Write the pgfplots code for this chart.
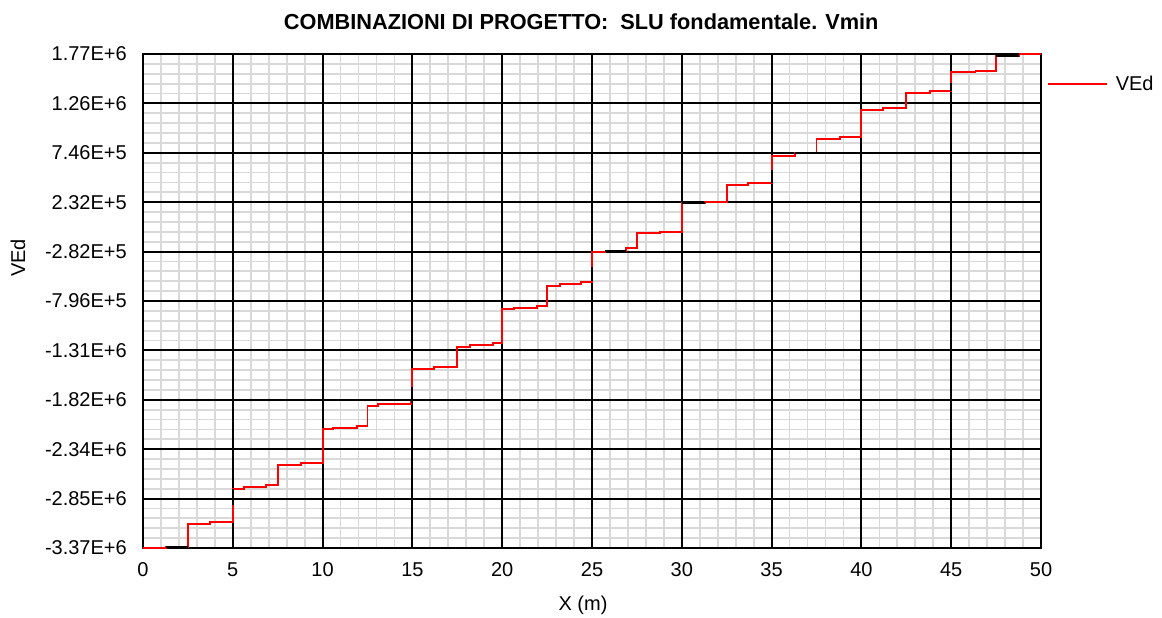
\documentclass[border=0pt]{standalone}
\usepackage{fontspec}
\setmainfont{Liberation Sans}
\usepackage{pgfplots}
\pgfplotsset{compat=1.18}
\definecolor{minorgray}{RGB}{217,217,217}
\pgfplotsset{
  baseaxis/.style={
    scale only axis,
    width=673.5pt, height=370.5pt,
    at={(0pt,0pt)}, anchor=south west,
    xmin=0, xmax=50, ymin=-3370000, ymax=1770000,
    xtick={0,5,...,50},
    ytick={-3370000,-2856000,-2342000,-1828000,-1314000,-800000,-286000,228000,742000,1256000,1770000},
    scaled y ticks=false, scaled x ticks=false,
    major tick length=0pt, minor tick length=0pt,
  }
}
\begin{document}
\begin{tikzpicture}
\useasboundingbox (-107.25pt,-51.75pt) rectangle (764.25pt,411pt);
% minor grid underneath
\begin{axis}[
  baseaxis,
  minor x tick num=4, minor y tick num=4,
  grid=minor,
  minor grid style={minorgray, line width=1.3pt},
  axis line style={draw=none},
  xticklabels={}, yticklabels={},
]
\end{axis}
% main axis
\begin{axis}[
  baseaxis,
  yticklabels={-3.37E+6,-2.85E+6,-2.34E+6,-1.82E+6,-1.31E+6,-7.96E+5,-2.82E+5,2.32E+5,7.46E+5,1.26E+6,1.77E+6},
  grid=major,
  major grid style={black, line width=1.4pt},
  axis line style={black, line width=1.4pt},
  /pgf/number format/assume math mode=true,
  tick label style={font=\fontsize{15pt}{18pt}\selectfont, inner sep=0pt},
  yticklabel style={xshift=-12pt},
  xticklabel style={yshift=-11pt},
  title={\bfseries COMBINAZIONI DI PROGETTO: \ SLU fondamentale. Vmin},
  title style={font=\fontsize{16.3pt}{19pt}\selectfont, at={(rel axis cs:0.488,1)}, anchor=base, yshift=12.5pt, inner sep=0pt},
  xlabel={X (m)},
  xlabel style={font=\fontsize{15pt}{18pt}\selectfont, at={(rel axis cs:0.49,0)}, anchor=base, yshift=-46.5pt, inner sep=0pt},
  ylabel={VEd},
  ylabel style={font=\fontsize{15pt}{18pt}\selectfont, at={(rel axis cs:0,0.587)}, anchor=center, yshift=93.75pt, inner sep=0pt},
  legend style={at={(rel axis cs:1,0.939)}, anchor=west, xshift=4.5pt, draw=none, fill=none, inner sep=0pt,
    font=\fontsize{15pt}{18pt}\selectfont},
  legend image code/.code={\draw[#1] (0pt,0pt) -- (44pt,0pt);},
  legend cell align=left,
]
\addplot[red, line width=1.4pt, const plot] coordinates {
(0,-3367000)
(1.3,-3356500)
(2.5,-3123500)
(3.75,-3102700)
(5,-2756200)
(5.6,-2732200)
(6.85,-2714600)
(7.5,-2506500)
(8.8,-2482500)
(10,-2135000)
(10.6,-2118300)
(11.9,-2100700)
(12.5,-1892600)
(13.1,-1871800)
(14.9,-1850900)
(15,-1507600)
(16.2,-1489900)
(17.5,-1275500)
(18.2,-1257900)
(19.5,-1240200)
(20,-886400)
(20.65,-869700)
(21.95,-852100)
(22.5,-640800)
(23.2,-620000)
(24.4,-599200)
(25,-293300)
(25.75,-276700)
(26.9,-251700)
(27.5,-95600)
(28.8,-82100)
(30,216500)
(31.3,230100)
(32.5,406900)
(33.7,424600)
(35,711800)
(36.3,736800)
(37.5,882500)
(38.8,903300)
(40,1187300)
(41.2,1205000)
(42.5,1367300)
(43.8,1385000)
(45,1579600)
(46.35,1596200)
(47.5,1752300)
(48.8,1770000)
(50,1770000)
};
\addlegendentry{\hspace{4pt}VEd}
\addplot[black, line width=1.4pt, forget plot, unbounded coords=jump] coordinates {
(1.3,-3356500) (2.5,-3356500) (nan,nan)
(5,-2922700) (5,-2756200) (nan,nan)
(14.9,-1850900) (15,-1850900) (15,-1691700) (nan,nan)
(25,-597000) (25,-443100) (nan,nan)
(25.75,-276700) (26.9,-276700) (nan,nan)
(30,216500) (31.3,216500) (nan,nan)
(35,424600) (35,563000) (nan,nan)
(36.3,736800) (37.5,736800) (nan,nan)
(45,1385000) (45,1471400) (nan,nan)
(47.5,1752300) (48.8,1752300)
};
\end{axis}
\end{tikzpicture}
\end{document}
